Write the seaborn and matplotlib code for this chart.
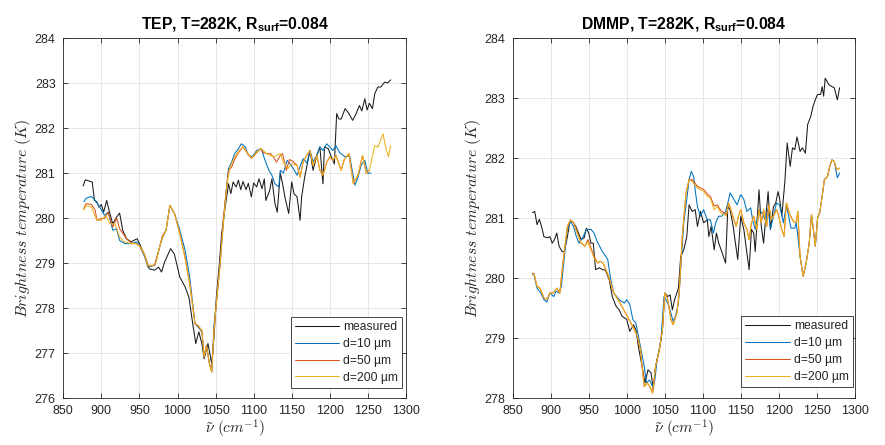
import numpy as np
import pandas as pd
import seaborn as sns
import matplotlib
matplotlib.use("Agg")
import matplotlib.pyplot as plt

# ---- TEP panel (left) ----
tep_meas_x = [876, 879, 884, 888, 891, 894, 897, 900, 903, 907,
              911, 915, 920, 924, 928, 933, 939, 947, 950, 956,
              963, 970, 975, 979, 983, 991, 996, 1003, 1010, 1015,
              1020, 1024, 1028, 1032, 1035, 1040, 1045, 1048, 1051, 1055,
              1058, 1062, 1067, 1070, 1073, 1077, 1080, 1083, 1086, 1090,
              1093, 1097, 1100, 1104, 1107, 1111, 1114, 1116, 1121, 1124,
              1128, 1131, 1135, 1138, 1141, 1146, 1150, 1153, 1157, 1161,
              1163, 1167, 1174, 1178, 1183, 1187, 1191, 1193, 1198, 1202,
              1206, 1209, 1212, 1215, 1220, 1224, 1230, 1234, 1239, 1242,
              1246, 1249, 1252, 1256, 1259, 1263, 1267, 1272, 1276, 1280]
tep_meas_y = [280.71, 280.85, 280.82, 280.80, 280.39, 280.36, 280.24, 280.30, 280.13, 280.39,
              280.11, 279.87, 280.02, 280.11, 279.73, 279.54, 279.47, 279.54, 279.43, 279.21,
              278.87, 278.84, 278.91, 278.80, 279.02, 279.32, 279.19, 278.69, 278.47, 278.24,
              277.65, 277.21, 277.47, 277.21, 276.87, 277.21, 276.76, 277.36, 278.24, 278.99,
              279.65, 280.17, 280.76, 280.54, 280.80, 280.69, 280.84, 280.63, 280.81, 280.63,
              280.77, 280.47, 280.78, 280.69, 280.87, 280.65, 280.87, 280.39, 280.61, 280.87,
              280.32, 280.13, 281.00, 280.76, 280.47, 280.10, 280.80, 280.54, 280.47, 279.95,
              280.47, 280.91, 281.50, 281.06, 281.39, 281.58, 280.76, 281.58, 281.54, 281.36,
              281.20, 282.32, 282.20, 282.20, 282.43, 282.35, 282.17, 282.30, 282.50, 282.38,
              282.65, 282.40, 282.55, 282.43, 282.76, 282.91, 282.91, 283.02, 283.00, 283.07]

tep_d10_x = [877, 880, 887, 892, 898, 904, 909, 915, 920, 924,
             931, 940, 946, 950, 957, 961, 970, 976, 980, 985,
             990, 996, 1003, 1010, 1016, 1023, 1027, 1032, 1035, 1038,
             1042, 1045, 1048, 1051, 1056, 1060, 1064, 1067, 1071, 1075,
             1080, 1084, 1089, 1093, 1098, 1104, 1110, 1115, 1120, 1124,
             1128, 1133, 1135, 1139, 1144, 1148, 1152, 1157, 1161, 1165,
             1170, 1174, 1178, 1183, 1187, 1191, 1196, 1200, 1204, 1208,
             1213, 1220, 1226, 1233, 1237, 1241, 1246, 1250, 1254]
tep_d10_y = [280.36, 280.44, 280.48, 280.39, 280.24, 280.06, 280.13, 279.73, 279.76, 279.50,
             279.43, 279.43, 279.47, 279.40, 279.13, 278.91, 278.95, 279.32, 279.55, 279.73,
             280.28, 280.10, 279.73, 279.28, 278.69, 277.65, 277.58, 277.47, 276.91, 277.17,
             276.76, 276.58, 277.65, 278.10, 278.99, 279.87, 280.61, 281.10, 281.24, 281.43,
             281.54, 281.65, 281.58, 281.40, 281.36, 281.50, 281.54, 281.28, 281.06, 280.95,
             280.76, 280.69, 281.06, 281.00, 281.28, 281.20, 281.10, 280.95, 281.15, 281.32,
             281.22, 281.50, 281.25, 281.40, 281.58, 281.50, 281.65, 281.58, 281.50, 281.61,
             281.45, 281.36, 281.38, 280.73, 280.90, 281.17, 281.28, 280.99, 281.00]

tep_d50_x = [877, 880, 887, 892, 894, 900, 904, 909, 915, 920,
             924, 933, 940, 946, 950, 957, 961, 970, 976, 980,
             985, 990, 996, 1003, 1010, 1016, 1023, 1027, 1032, 1035,
             1038, 1042, 1045, 1048, 1051, 1056, 1060, 1064, 1067, 1071,
             1075, 1080, 1086, 1090, 1097, 1104, 1109, 1113, 1118, 1122,
             1126, 1130, 1135, 1138, 1143, 1147, 1152, 1157, 1161, 1165,
             1170, 1174, 1178, 1183, 1187, 1191, 1196, 1200, 1204, 1208,
             1215, 1219, 1225, 1231, 1237, 1243, 1248, 1252]
tep_d50_y = [280.21, 280.32, 280.30, 280.17, 279.95, 279.99, 279.99, 280.13, 279.80, 280.00,
             279.76, 279.54, 279.44, 279.43, 279.38, 279.17, 278.93, 278.95, 279.32, 279.60,
             279.73, 280.28, 280.10, 279.66, 279.12, 278.54, 277.65, 277.60, 277.50, 276.91,
             277.17, 276.76, 276.58, 277.55, 278.10, 278.99, 279.95, 280.61, 281.05, 281.13,
             281.30, 281.45, 281.58, 281.48, 281.32, 281.45, 281.54, 281.45, 281.43, 281.43,
             281.35, 281.24, 281.39, 281.43, 281.06, 281.30, 281.25, 281.17, 280.91, 281.25,
             281.40, 281.50, 281.17, 281.39, 281.06, 280.95, 281.24, 281.36, 281.28, 281.39,
             281.06, 281.30, 281.43, 280.76, 280.95, 281.39, 280.99, 281.06]

tep_d200_x = [877, 880, 887, 894, 900, 906, 911, 918, 924, 930,
              940, 946, 952, 957, 961, 968, 972, 976, 980, 985,
              990, 996, 1003, 1010, 1016, 1023, 1027, 1032, 1035, 1038,
              1042, 1045, 1048, 1051, 1056, 1061, 1065, 1069, 1075, 1081,
              1086, 1092, 1097, 1104, 1110, 1117, 1126, 1135, 1139, 1145,
              1150, 1157, 1161, 1165, 1170, 1174, 1178, 1183, 1187, 1191,
              1196, 1200, 1204, 1208, 1215, 1219, 1225, 1231, 1237, 1243,
              1248, 1252, 1259, 1263, 1270, 1273, 1277, 1280]
tep_d200_y = [280.17, 280.28, 280.24, 279.95, 279.95, 280.06, 279.87, 279.87, 279.58, 279.47,
              279.43, 279.43, 279.35, 279.17, 278.95, 278.95, 279.02, 279.32, 279.55, 279.73,
              280.28, 280.10, 279.65, 279.10, 278.54, 277.65, 277.62, 277.50, 276.91, 277.17,
              276.76, 276.58, 277.50, 278.10, 278.99, 280.02, 280.76, 281.13, 281.35, 281.50,
              281.58, 281.45, 281.32, 281.47, 281.54, 281.43, 281.36, 281.43, 281.24, 281.10,
              281.20, 281.17, 280.91, 281.25, 281.40, 281.50, 281.17, 281.39, 281.06, 280.95,
              281.24, 281.36, 281.28, 281.39, 281.06, 281.30, 281.43, 280.76, 280.95, 281.39,
              280.99, 281.06, 281.61, 281.57, 281.87, 281.60, 281.36, 281.61]

# ---- DMMP panel (right) ----
dmmp_meas_x = [876, 879, 882, 885, 888, 891, 896, 899, 902, 905,
               908, 911, 915, 918, 922, 925, 929, 933, 940, 944,
               947, 950, 953, 956, 959, 964, 968, 972, 977, 981,
               986, 990, 994, 1000, 1004, 1009, 1012, 1016, 1021, 1024,
               1028, 1032, 1035, 1038, 1043, 1047, 1050, 1054, 1057, 1060,
               1063, 1068, 1071, 1075, 1079, 1082, 1086, 1090, 1093, 1097,
               1101, 1106, 1108, 1111, 1115, 1118, 1121, 1125, 1130, 1133,
               1136, 1140, 1143, 1146, 1150, 1154, 1158, 1161, 1164, 1167,
               1169, 1174, 1177, 1180, 1183, 1186, 1189, 1193, 1196, 1199,
               1201, 1204, 1208, 1211, 1215, 1218, 1221, 1224, 1228, 1231,
               1235, 1238, 1242, 1245, 1248, 1251, 1255, 1257, 1259, 1261,
               1266, 1270, 1273, 1277, 1280]
dmmp_meas_y = [281.09, 281.11, 280.89, 280.98, 280.86, 280.69, 280.67, 280.69, 280.58, 280.64,
               280.75, 280.53, 280.44, 280.44, 280.69, 280.93, 280.94, 280.86, 280.64, 280.67,
               280.83, 280.75, 280.58, 280.58, 280.14, 280.17, 280.14, 280.13, 279.97, 279.69,
               279.53, 279.47, 279.36, 279.31, 279.11, 279.22, 279.14, 278.81, 278.47, 278.25,
               278.47, 278.42, 278.14, 278.53, 278.81, 279.14, 279.75, 279.69, 279.72, 279.47,
               279.64, 279.83, 280.36, 280.47, 280.69, 281.22, 281.11, 281.14, 280.86, 281.11,
               280.92, 280.97, 280.69, 280.86, 280.47, 280.75, 280.58, 280.44, 280.25, 281.19,
               281.14, 280.86, 280.58, 280.31, 281.03, 280.81, 280.42, 280.14, 280.81, 280.75,
               280.44, 281.47, 280.86, 280.58, 281.03, 281.44, 280.81, 281.19, 281.25, 281.44,
               281.33, 281.03, 281.61, 282.25, 281.86, 282.17, 282.14, 282.35, 282.11, 282.17,
               282.08, 282.56, 282.69, 282.86, 282.97, 283.06, 283.06, 283.19, 283.03, 283.33,
               283.22, 283.19, 283.17, 282.97, 283.17]

dmmp_d10_x = [876, 878, 882, 887, 891, 895, 899, 904, 907, 911,
              914, 918, 922, 926, 930, 933, 937, 942, 947, 953,
              957, 961, 968, 975, 979, 983, 990, 997, 1000, 1004,
              1008, 1012, 1018, 1023, 1026, 1030, 1034, 1037, 1040, 1045,
              1049, 1054, 1058, 1061, 1064, 1068, 1071, 1075, 1079, 1082,
              1085, 1088, 1090, 1093, 1097, 1101, 1106, 1110, 1114, 1117,
              1121, 1125, 1130, 1133, 1136, 1141, 1145, 1150, 1154, 1158,
              1163, 1166, 1169, 1174, 1178, 1183, 1186, 1189, 1193, 1197,
              1201, 1206, 1210, 1213, 1216, 1221, 1223, 1228, 1232, 1236,
              1240, 1243, 1245, 1248, 1251, 1254, 1257, 1260, 1264, 1267,
              1270, 1273, 1277, 1280]
dmmp_d10_y = [280.08, 280.05, 279.83, 279.75, 279.64, 279.60, 279.75, 279.69, 279.78, 279.75,
              279.86, 280.36, 280.83, 280.94, 280.86, 280.72, 280.58, 280.67, 280.81, 280.81,
              280.75, 280.61, 280.44, 280.31, 279.97, 279.75, 279.64, 279.58, 279.64, 279.56,
              279.31, 279.25, 278.86, 278.53, 278.25, 278.30, 278.19, 278.30, 278.64, 278.97,
              279.69, 279.58, 279.42, 279.28, 279.36, 279.58, 280.14, 280.92, 281.31, 281.64,
              281.78, 281.69, 281.47, 281.19, 281.03, 281.14, 280.97, 280.97, 280.75, 280.92,
              281.03, 281.03, 281.11, 281.25, 281.42, 281.31, 281.22, 281.39, 281.31, 281.11,
              281.17, 280.94, 280.81, 281.14, 281.08, 280.94, 281.17, 280.81, 281.03, 281.25,
              281.22, 280.92, 281.22, 281.03, 280.83, 280.83, 280.92, 280.36, 280.03, 280.25,
              280.58, 281.06, 280.86, 280.53, 281.00, 281.10, 281.36, 281.64, 281.69, 281.86,
              281.97, 281.94, 281.67, 281.75]

dmmp_model_x = [876, 878, 882, 886, 891, 895, 899, 903, 908, 912,
                916, 922, 926, 930, 935, 940, 945, 949, 953, 957,
                962, 965, 969, 976, 983, 990, 996, 1003, 1010, 1014,
                1018, 1023, 1027, 1030, 1034, 1038, 1043, 1047, 1050, 1054,
                1058, 1061, 1066, 1069, 1073, 1078, 1082, 1086, 1093, 1097,
                1101, 1106, 1110, 1115, 1119, 1124, 1128, 1131, 1134, 1137,
                1141, 1144, 1147, 1150, 1154, 1158, 1161, 1164, 1167, 1171,
                1174, 1177, 1180, 1184, 1187, 1190, 1193, 1197, 1200, 1203,
                1207, 1210, 1214, 1218, 1221, 1223, 1225, 1228, 1232, 1236,
                1240, 1243, 1245, 1248, 1251, 1254, 1257, 1260, 1264, 1267,
                1270, 1273, 1276, 1280]
dmmp_d50_y = [280.06, 280.08, 279.86, 279.83, 279.67, 279.64, 279.75, 279.75, 279.83, 279.75,
              280.25, 280.86, 280.97, 280.92, 280.75, 280.58, 280.53, 280.64, 280.50, 280.36,
              280.25, 280.28, 280.25, 280.03, 279.75, 279.61, 279.47, 279.31, 279.14, 279.03,
              278.81, 278.19, 278.25, 278.20, 278.08, 278.53, 278.81, 279.14, 279.75, 279.64,
              279.31, 279.22, 279.42, 279.75, 280.69, 281.42, 281.64, 281.64, 281.53, 281.50,
              281.48, 281.40, 281.36, 281.20, 281.22, 281.12, 281.09, 281.06, 281.25, 281.14,
              280.97, 280.86, 281.03, 281.14, 280.92, 280.81, 280.64, 280.92, 281.03, 280.81,
              281.14, 280.92, 281.14, 280.86, 281.22, 280.97, 281.03, 281.14, 281.03, 280.85,
              280.69, 281.25, 281.08, 280.97, 280.92, 280.94, 281.11, 280.36, 280.03, 280.25,
              280.58, 281.06, 280.86, 280.53, 281.00, 281.10, 281.36, 281.64, 281.69, 281.86,
              281.97, 281.94, 281.81, 281.83]
dmmp_d200_y = [280.06, 280.08, 279.86, 279.83, 279.67, 279.64, 279.75, 279.75, 279.83, 279.75,
               280.25, 280.86, 280.97, 280.92, 280.75, 280.58, 280.53, 280.60, 280.47, 280.33,
               280.25, 280.28, 280.25, 280.03, 279.75, 279.61, 279.47, 279.31, 279.14, 279.03,
               278.81, 278.19, 278.25, 278.20, 278.08, 278.53, 278.81, 279.14, 279.75, 279.64,
               279.31, 279.22, 279.42, 279.75, 280.69, 281.42, 281.64, 281.61, 281.50, 281.47,
               281.45, 281.36, 281.33, 281.14, 281.19, 281.08, 281.06, 281.03, 281.25, 281.14,
               280.97, 280.86, 281.03, 281.14, 280.92, 280.81, 280.64, 280.92, 281.03, 280.81,
               281.14, 280.92, 281.14, 280.86, 281.22, 280.97, 281.03, 281.14, 281.03, 280.85,
               280.69, 281.25, 281.08, 280.97, 280.92, 280.94, 281.11, 280.36, 280.03, 280.25,
               280.58, 281.06, 280.86, 280.53, 281.00, 281.10, 281.36, 281.64, 281.69, 281.86,
               281.97, 281.94, 281.81, 281.83]

labels = ["measured", "d=10 µm", "d=50 µm", "d=200 µm"]
colors = ["#1a1a1a", "#0072BD", "#D95319", "#EDB120"]
titles = ["TEP, T=282K, R$_{\\mathbf{surf}}$=0.084",
          "DMMP, T=282K, R$_{\\mathbf{surf}}$=0.084"]

sns.set_theme(style="whitegrid")
plt.rcParams["font.family"] = ["Liberation Sans", "DejaVu Sans"]
plt.rcParams["mathtext.fontset"] = "custom"
plt.rcParams["mathtext.rm"] = "Liberation Sans"
plt.rcParams["mathtext.bf"] = "Liberation Sans:bold"
plt.rcParams["mathtext.it"] = "Liberation Sans:italic"

fig = plt.figure(figsize=(8.85, 4.45), dpi=100)
ax1 = fig.add_axes([0.0715, 0.1056, 0.3872, 0.809])
ax2 = fig.add_axes([0.5793, 0.1056, 0.3866, 0.809])

panels = [
    (ax1, [(tep_meas_x, tep_meas_y), (tep_d10_x, tep_d10_y),
           (tep_d50_x, tep_d50_y), (tep_d200_x, tep_d200_y)], (276, 284), (0.989, 0.028)),
    (ax2, [(dmmp_meas_x, dmmp_meas_y), (dmmp_d10_x, dmmp_d10_y),
           (dmmp_model_x, dmmp_d50_y), (dmmp_model_x, dmmp_d200_y)], (278, 284), (0.994, 0.03)),
]

for i, (ax, series, ylim, leg_anchor) in enumerate(panels):
    for (xs, ys), lab, col in zip(series, labels, colors):
        df = pd.DataFrame({"wn": xs, "tb": ys})
        sns.lineplot(data=df, x="wn", y="tb", ax=ax, color=col, lw=0.75,
                     label=lab, sort=False, estimator=None)
    ax.set_xlim(850, 1300)
    ax.set_ylim(*ylim)
    ax.set_xticks(np.arange(850, 1301, 50))
    ax.set_yticks(np.arange(ylim[0], ylim[1] + 1, 1))
    ax.set_facecolor("white")
    ax.grid(True, color="#e3e3e3", lw=0.6)
    for s in ax.spines.values():
        s.set_color("#262626")
        s.set_linewidth(0.6)
        s.set_visible(True)
    ax.tick_params(direction="in", length=3.5, width=0.6, color="#262626",
                   labelsize=9, labelcolor="#262626", top=True, right=True,
                   bottom=True, left=True)
    ax.tick_params(axis="x", pad=5)
    ax.tick_params(axis="y", pad=5.5)
    ax.set_xlabel(r"$\tilde{\nu}\ (cm^{-1})$", fontsize=11, math_fontfamily="cm",
                  color="#262626", labelpad=1)
    ax.set_ylabel(r"$Brightness\ temperature\ (K)$", fontsize=11.3,
                  math_fontfamily="cm", color="#262626", labelpad=1)
    ax.set_title(titles[i], fontsize=11.3, fontweight="bold", color="black", pad=6)
    leg = ax.legend(loc="lower right", bbox_to_anchor=leg_anchor, fontsize=8.7,
                    frameon=True, fancybox=False, edgecolor="#262626",
                    handlelength=3.7, handletextpad=0.3, labelspacing=0.4,
                    borderpad=0.35, borderaxespad=0)
    leg.get_frame().set_linewidth(0.6)
    leg.get_frame().set_alpha(1)
    for t in leg.get_texts():
        t.set_color("#262626")

fig.savefig("out.png", dpi=100, facecolor="white")
